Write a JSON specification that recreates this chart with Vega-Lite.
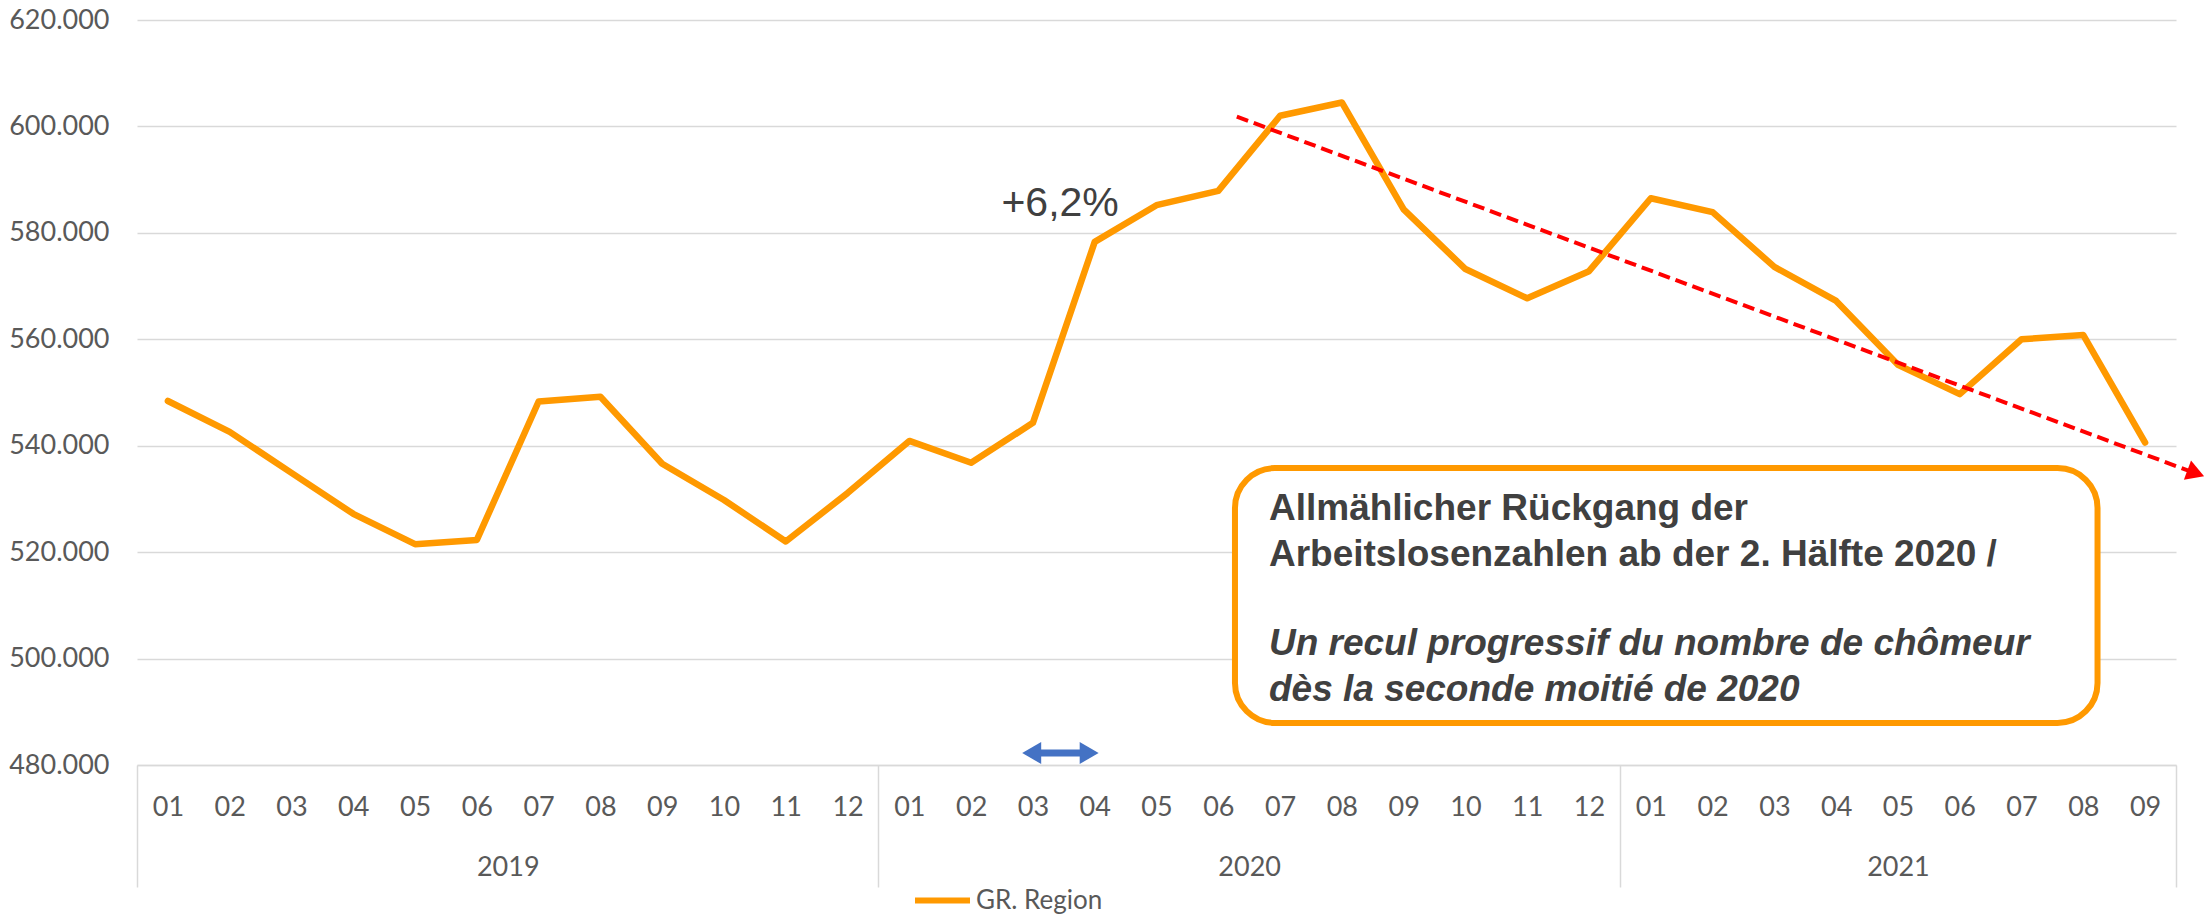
{
  "$schema": "https://vega.github.io/schema/vega-lite/v6.json",
  "width": 2039,
  "height": 745,
  "autosize": {"type": "none"},
  "padding": {"left": 137, "top": 20, "right": 32, "bottom": 150},
  "background": "white",
  "config": {
    "locale": {"number": {"decimal": ",", "thousands": ".", "grouping": [3], "currency": ["", " €"]}},
    "view": {"stroke": null},
    "axis": {"labelFont": "Lato", "labelFontSize": 26, "labelColor": "#595959"}
  },
  "datasets": {
    "series": [
      {"i": 0.5, "v": 548400, "series": "GR. Region"},
      {"i": 1.5, "v": 542600, "series": "GR. Region"},
      {"i": 2.5, "v": 534900, "series": "GR. Region"},
      {"i": 3.5, "v": 527200, "series": "GR. Region"},
      {"i": 4.5, "v": 521500, "series": "GR. Region"},
      {"i": 5.5, "v": 522300, "series": "GR. Region"},
      {"i": 6.5, "v": 548300, "series": "GR. Region"},
      {"i": 7.5, "v": 549200, "series": "GR. Region"},
      {"i": 8.5, "v": 536600, "series": "GR. Region"},
      {"i": 9.5, "v": 529800, "series": "GR. Region"},
      {"i": 10.5, "v": 522000, "series": "GR. Region"},
      {"i": 11.5, "v": 531100, "series": "GR. Region"},
      {"i": 12.5, "v": 540900, "series": "GR. Region"},
      {"i": 13.5, "v": 536800, "series": "GR. Region"},
      {"i": 14.5, "v": 544300, "series": "GR. Region"},
      {"i": 15.5, "v": 578300, "series": "GR. Region"},
      {"i": 16.5, "v": 585200, "series": "GR. Region"},
      {"i": 17.5, "v": 587900, "series": "GR. Region"},
      {"i": 18.5, "v": 602000, "series": "GR. Region"},
      {"i": 19.5, "v": 604500, "series": "GR. Region"},
      {"i": 20.5, "v": 584400, "series": "GR. Region"},
      {"i": 21.5, "v": 573200, "series": "GR. Region"},
      {"i": 22.5, "v": 567700, "series": "GR. Region"},
      {"i": 23.5, "v": 572800, "series": "GR. Region"},
      {"i": 24.5, "v": 586500, "series": "GR. Region"},
      {"i": 25.5, "v": 583900, "series": "GR. Region"},
      {"i": 26.5, "v": 573600, "series": "GR. Region"},
      {"i": 27.5, "v": 567200, "series": "GR. Region"},
      {"i": 28.5, "v": 555200, "series": "GR. Region"},
      {"i": 29.5, "v": 549700, "series": "GR. Region"},
      {"i": 30.5, "v": 560000, "series": "GR. Region"},
      {"i": 31.5, "v": 560800, "series": "GR. Region"},
      {"i": 32.5, "v": 540600, "series": "GR. Region"}
    ],
    "box": [{"x": 17.77, "x2": 31.73, "y": 535800, "y2": 487900}],
    "pct": [{"x": 14.94, "y": 585400, "t": "+6,2%"}],
    "boldtext": [
      {"x": 18.32, "y": 526040, "t": "Allmählicher Rückgang der"},
      {"x": 18.32, "y": 517400, "t": "Arbeitslosenzahlen ab der 2. Hälfte 2020 /"}
    ],
    "italictext": [
      {"x": 18.32, "y": 500670, "t": "Un recul progressif du nombre de chômeur"},
      {"x": 18.32, "y": 492030, "t": "dès la seconde moitié de 2020"}
    ],
    "bluebar": [{"x": 14.5, "x2": 15.4, "y": 482256}],
    "bluehead": [
      {"x": 14.48, "y": 482256, "shape": "triangle-left"},
      {"x": 15.41, "y": 482256, "shape": "triangle-right"}
    ],
    "trend": [{"x": 17.8, "y": 601828, "x2": 33.2, "y2": 535320}],
    "trendhead": [{"x": 33.32, "y": 534833}]
  },
  "layer": [
    {
      "data": {"name": "box"},
      "mark": {"type": "rect", "cornerRadius": 40, "fill": "white", "stroke": "#FF9900", "strokeWidth": 6},
      "encoding": {
        "x": {"field": "x", "type": "quantitative", "scale": {"domain": [0, 33], "nice": false, "zero": false},
          "axis": {"orient": "bottom", "values": [0, 12, 24, 33], "labels": false, "ticks": true, "tickSize": 122, "tickColor": "#d9d9d9", "tickWidth": 1.5, "domain": false, "grid": false, "title": null}},
        "x2": {"field": "x2"},
        "y": {"field": "y", "type": "quantitative", "scale": {"domain": [480000, 620000], "nice": false, "zero": false},
          "axis": {"orient": "left", "values": [480000, 500000, 520000, 540000, 560000, 580000, 600000, 620000], "format": ",.0f", "grid": true, "gridColor": "#d9d9d9", "gridWidth": 1.5, "domain": false, "ticks": false, "labelPadding": 28, "labelFontSize": 27, "title": null}},
        "y2": {"field": "y2"}
      }
    },
    {
      "data": {"name": "series"},
      "mark": {"type": "line", "strokeWidth": 6.5, "strokeJoin": "round", "strokeCap": "round"},
      "encoding": {
        "x": {"field": "i", "type": "quantitative", "scale": {"domain": [0, 33], "nice": false, "zero": false},
          "axis": {"orient": "bottom", "values": [0.5,1.5,2.5,3.5,4.5,5.5,6.5,7.5,8.5,9.5,10.5,11.5,12.5,13.5,14.5,15.5,16.5,17.5,18.5,19.5,20.5,21.5,22.5,23.5,24.5,25.5,26.5,27.5,28.5,29.5,30.5,31.5,32.5],
            "labelExpr": "(floor(datum.value) % 12 + 1) < 10 ? '0' + (floor(datum.value) % 12 + 1) : '' + (floor(datum.value) % 12 + 1)",
            "ticks": false, "tickSize": 0, "domain": true, "domainColor": "#d9d9d9", "domainWidth": 1.5, "grid": false,
            "labelPadding": 42, "labelBaseline": "middle", "labelFlush": false, "labelOverlap": false, "labelFontSize": 27, "title": null}},
        "y": {"field": "v", "type": "quantitative", "axis": null},
        "color": {"field": "series", "type": "nominal", "scale": {"domain": ["GR. Region"], "range": ["#FF9900"]},
          "legend": {"orient": "none", "legendX": 775, "legendY": 850, "title": null, "symbolType": "stroke", "symbolSize": 3025, "symbolStrokeWidth": 6, "labelFontSize": 26, "labelFont": "Lato", "labelColor": "#595959", "labelOffset": 3, "padding": 0}}
      }
    },
    {
      "data": {"name": "pct"},
      "mark": {"type": "text", "font": "Liberation Sans", "fontSize": 41, "color": "#404040", "align": "center", "baseline": "middle"},
      "encoding": {
        "x": {"field": "x", "type": "quantitative",
          "axis": {"orient": "bottom", "values": [6, 18, 28.5], "labelExpr": "datum.value < 12 ? '2019' : datum.value < 24 ? '2020' : '2021'", "ticks": false, "tickSize": 0, "domain": false, "grid": false, "labelPadding": 102, "labelBaseline": "middle", "labelFlush": false, "labelFontSize": 27, "title": null}},
        "y": {"field": "y", "type": "quantitative", "axis": null},
        "text": {"field": "t"}
      }
    },
    {
      "data": {"name": "boldtext"},
      "mark": {"type": "text", "font": "Liberation Sans", "fontSize": 37, "fontWeight": "bold", "color": "#404040", "align": "left", "baseline": "alphabetic"},
      "encoding": {
        "x": {"field": "x", "type": "quantitative", "axis": null},
        "y": {"field": "y", "type": "quantitative", "axis": null},
        "text": {"field": "t"}
      }
    },
    {
      "data": {"name": "italictext"},
      "mark": {"type": "text", "font": "Liberation Sans", "fontSize": 37, "fontWeight": "bold", "fontStyle": "italic", "color": "#404040", "align": "left", "baseline": "alphabetic"},
      "encoding": {
        "x": {"field": "x", "type": "quantitative", "axis": null},
        "y": {"field": "y", "type": "quantitative", "axis": null},
        "text": {"field": "t"}
      }
    },
    {
      "data": {"name": "bluebar"},
      "mark": {"type": "rule", "strokeWidth": 7, "color": "#4472C4"},
      "encoding": {
        "x": {"field": "x", "type": "quantitative", "axis": null},
        "x2": {"field": "x2"},
        "y": {"field": "y", "type": "quantitative", "axis": null}
      }
    },
    {
      "data": {"name": "bluehead"},
      "mark": {"type": "point", "filled": true, "size": 480, "color": "#4472C4", "opacity": 1},
      "encoding": {
        "x": {"field": "x", "type": "quantitative", "axis": null},
        "y": {"field": "y", "type": "quantitative", "axis": null},
        "shape": {"field": "shape", "type": "nominal", "scale": null, "legend": null}
      }
    },
    {
      "data": {"name": "trend"},
      "mark": {"type": "rule", "strokeWidth": 4, "color": "#FF0000", "strokeDash": [12, 6]},
      "encoding": {
        "x": {"field": "x", "type": "quantitative", "axis": null},
        "x2": {"field": "x2"},
        "y": {"field": "y", "type": "quantitative", "axis": null},
        "y2": {"field": "y2"}
      }
    },
    {
      "data": {"name": "trendhead"},
      "mark": {"type": "point", "filled": true, "shape": "triangle-right", "size": 420, "angle": 20.4, "color": "#FF0000", "opacity": 1},
      "encoding": {
        "x": {"field": "x", "type": "quantitative", "axis": null},
        "y": {"field": "y", "type": "quantitative", "axis": null}
      }
    }
  ],
  "resolve": {"axis": {"x": "independent", "y": "independent"}}
}
